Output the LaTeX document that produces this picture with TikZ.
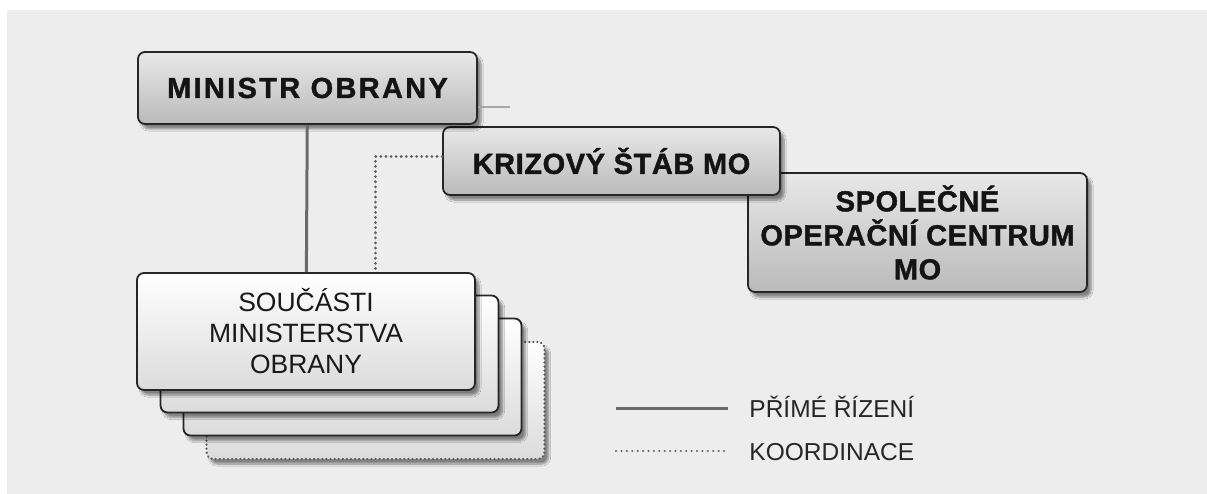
\documentclass[tikz,border=0pt]{standalone}
\usepackage{fontspec}
\setmainfont{Liberation Sans}
\usepackage{xcolor}
\usetikzlibrary{calc,shadows.blur}
\definecolor{bggray}{HTML}{EDEDED}
\definecolor{linegray}{HTML}{6A6A6A}
\tikzset{
  boxshadow/.style={blur shadow={shadow xshift=4pt, shadow yshift=-5pt, shadow blur steps=8, shadow opacity=45}}
}

\begin{document}
\begin{tikzpicture}[x=1pt, y=-1pt, thick,
    main/.style = {draw=black!85, line width=1.8pt, rounded corners=7pt, top color=black!9, middle color=black!13, bottom color=black!27, boxshadow, inner sep=0pt, align=center, text=black!92, font=\fontsize{29}{34}\selectfont\bfseries\addfontfeature{LetterSpace=2,FakeBold=1.3}},
    part/.style = {draw=black!85, line width=1.8pt, rounded corners=7pt, top color=white, middle color=white, bottom color=black!14, boxshadow, inner sep=0pt, align=center, text=black!90, font=\fontsize{26.5}{31}\selectfont, minimum width=338pt, minimum height=117pt},
    direct/.style = {draw=linegray, line width=3pt},
    coord/.style = {draw=black!62, line width=3pt, line cap=round, dash pattern=on 0.1pt off 5pt},
    legend/.style = {anchor=west, inner sep=0pt, text=black!85, font=\fontsize{24.5}{28}\selectfont}]
    \useasboundingbox (0,0) rectangle (1207,494);
    \fill[bggray] (7,10) rectangle (1207,494);

    % stack of parts, back to front
    \node[part, draw=black!65, line width=2.4pt, dash pattern=on 0.1pt off 4pt, line cap=round](7) at (375.5,400.5){};
    \node[part](6) at (352.5,377){};
    \node[part](5) at (329.5,354){};
    \node[part](4) at (306,331.5){SOUČÁSTI\\MINISTERSTVA\\OBRANY};

    % staff boxes, lowest first
    \node[main, minimum width=339pt, minimum height=119pt](3) at (917.5,232.5){SPOLEČNÉ\\OPERAČNÍ CENTRUM\\MO};
    \node[main, minimum width=337pt, minimum height=68pt](2) at (611.5,161){KRIZOVÝ ŠTÁB MO};
    \node[main, minimum width=339pt, minimum height=72pt, font=\fontsize{29}{34}\selectfont\bfseries\addfontfeature{LetterSpace=8,FakeBold=1.3}](1) at (307.5,88){MINISTR OBRANY};

    \coordinate (s1) at ([xshift=32pt, yshift=-19pt]1.east);
    \coordinate (c1) at ($(4.north)+(69,0)$);

    \path
    (1) edge[direct] (4)
    ;
    \draw[coord] (2.west |- 0,157) -| (c1);
    \draw[black!35, line width=2.5pt] (1.east |- s1) -- (s1);

    % legend
    \coordinate (a1) at (616,408);
    \coordinate (a2) at (728,408);
    \coordinate (b1) at (616,451);
    \coordinate (b2) at (729,451);
    \draw[direct] (a1) -- (a2);
    \draw[coord, line width=2.4pt, dash pattern=on 0.1pt off 5.3pt] (b1) -- (b2);
    \node[legend](8) at (749,407){PŘÍMÉ ŘÍZENÍ};
    \node[legend](9) at (749,452){KOORDINACE};
\end{tikzpicture}
\end{document}
